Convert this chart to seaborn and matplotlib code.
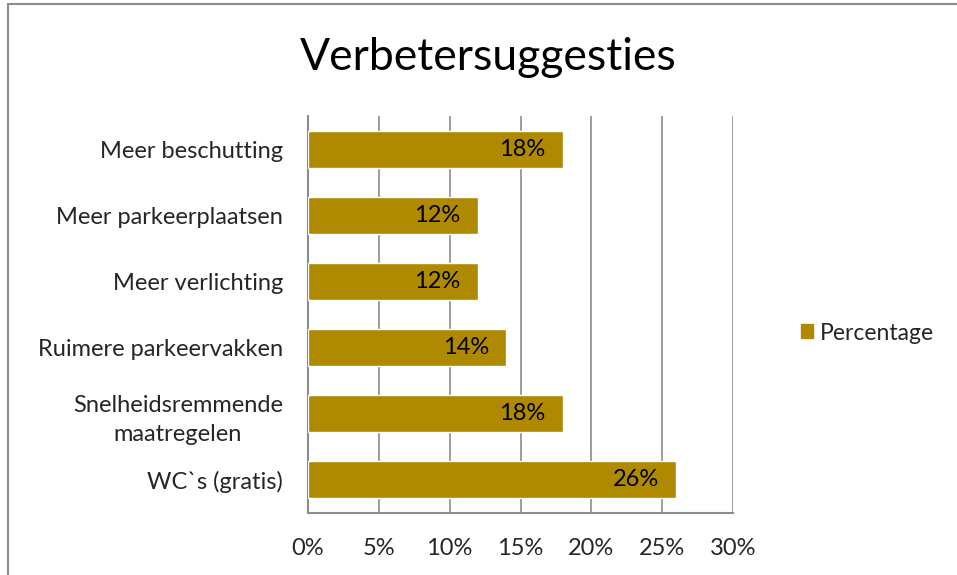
import matplotlib
matplotlib.use('Agg')
import matplotlib.pyplot as plt
import matplotlib.patches as mpatches
import seaborn as sns
import pandas as pd

categorieen = ['Meer beschutting', 'Meer parkeerplaatsen', 'Meer verlichting',
               'Ruimere parkeervakken', 'Snelheidsremmende\nmaatregelen', 'WC`s (gratis)']
percentages = [18, 12, 12, 14, 18, 26]
xticks = [0, 5, 10, 15, 20, 25, 30]
titel = 'Verbetersuggesties'
reeks = 'Percentage'

sns.set_style('white')
plt.rcParams['font.family'] = ['Lato', 'DejaVu Sans']

df = pd.DataFrame({'cat': categorieen, 'pct': percentages})
kleur = '#AF8A00'

fig = plt.figure(figsize=(9.57, 5.75), dpi=100)
ax = fig.add_axes([308 / 957, 1 - 513 / 575, (733 - 308) / 957, (513 - 116) / 575])

sns.barplot(data=df, x='pct', y='cat', color=kleur, saturation=1, width=0.56, ax=ax, zorder=3)

ax.set_xlim(0, 30)
ax.set_ylim(5.5, -0.5)
ax.set_xticks(xticks)
ax.set_xticklabels([f'{t}%' for t in xticks], fontsize=17)
ax.tick_params(axis='y', labelsize=17, length=0, pad=18)
ax.tick_params(axis='x', length=0, pad=18)
for lbl in ax.get_yticklabels():
    lbl.set_horizontalalignment('right')
    lbl.set_multialignment('center')
    lbl.set_linespacing(1.5)
ax.set_xlabel('')
ax.set_ylabel('')
ax.grid(axis='x', color='#8c8c8c', linewidth=1.2, zorder=0)
for s in ['top', 'right']:
    ax.spines[s].set_visible(False)
for s in ['left', 'bottom']:
    ax.spines[s].set_color('#8c8c8c')
    ax.spines[s].set_linewidth(1.5)

for i, v in enumerate(percentages):
    ax.annotate(f'{v}%', xy=(v, i), xytext=(-12.5, 0), textcoords='offset points',
                ha='right', va='center', fontsize=17, color='black', zorder=4)

fig.text(488 / 957, 1 - 58 / 575, titel, ha='center', va='center', fontsize=32, color='black')

handle = mpatches.Patch(color=kleur, label=reeks)
fig.legend(handles=[handle], loc='center left', bbox_to_anchor=(780 / 957, 1 - 333 / 575),
           frameon=False, fontsize=16.5, handlelength=0.55, handleheight=0.55, handletextpad=0.3)

rand = mpatches.Rectangle((8 / 957, -0.01), 1.1, 1 - 4 / 575 + 0.01, transform=fig.transFigure,
                          fill=False, edgecolor='#8c8c8c', linewidth=1.5)
fig.patches.append(rand)

fig.savefig('out.png', dpi=100, facecolor='white')
